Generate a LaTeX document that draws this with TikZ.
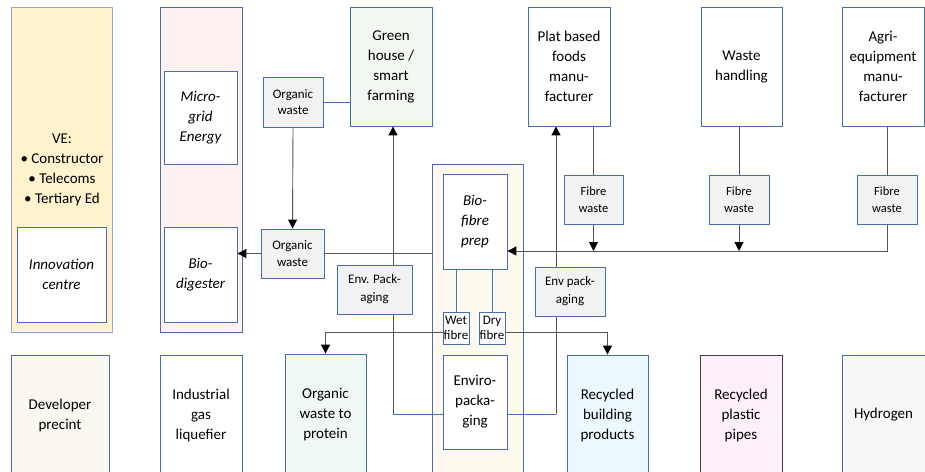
\documentclass[tikz,border=0pt]{standalone}
\usepackage{fontspec}
\setmainfont{Carlito}
\usetikzlibrary{arrows.meta}
\definecolor{boxb}{HTML}{4A6DB0}
\definecolor{colb}{HTML}{8FA9D8}
\definecolor{lnc}{HTML}{555555}
\definecolor{bluel}{HTML}{4472C4}
\definecolor{sgrey}{HTML}{F2F2F2}
\definecolor{vefill}{HTML}{FFF2CC}
\definecolor{mgfill}{HTML}{FFF1F1}
\definecolor{grfill}{HTML}{F2F8EF}
\definecolor{bffill}{HTML}{FFFAF0}
\definecolor{devfill}{HTML}{FCF7F0}
\definecolor{prfill}{HTML}{EFF8F5}
\definecolor{rcfill}{HTML}{EBF8FD}
\definecolor{ppfill}{HTML}{FDF0FA}
\definecolor{hyfill}{HTML}{F7F7FA}
\definecolor{ppb}{HTML}{404040}
\newcommand\fbig{\fontsize{15}{20}\selectfont}
\newcommand\fsm{\fontsize{13}{16.5}\selectfont}
\newcommand\fxs{\fontsize{12.5}{16.5}\selectfont}
\newcommand\fwd{\fontsize{13}{15}\selectfont}
\pgfdeclarelayer{bg}
\pgfdeclarelayer{mid}
\pgfsetlayers{bg,mid,main}
\tikzset{
  wh/.style 2 args={minimum width=#1pt, minimum height=#2pt},
  box/.style={draw=boxb, line width=0.8pt, fill=white, align=center, inner sep=0pt, font=\fbig},
  ibox/.style={box, font=\fbig\itshape},
  sbox/.style={box, fill=sgrey, font=\fsm},
  colbox/.style={draw=colb, line width=0.8pt, inner sep=0pt},
  conn/.style={draw=lnc, line width=0.9pt},
  bconn/.style={draw=bluel, line width=0.9pt},
  arr/.style={conn, -{Triangle[width=9pt,length=9pt,fill=black,color=black]}},
}
\begin{document}
\begin{tikzpicture}[x=1pt,y=-1pt]
\useasboundingbox (0,0) rectangle (925,471);
\clip (0,0) rectangle (925,471);
\begin{pgfonlayer}{bg}
\fill[white] (0,0) rectangle (925,471);
\node[colbox, fill=vefill, wh={101}{325}] (vecol) at (61.5,169.5) {};
\node[colbox, draw=boxb, fill=mgfill, wh={82}{325}] (mgcol) at (201,169.5) {};
\node[colbox, draw=boxb, fill=bffill, wh={91}{316}] (bfcol) at (477.5,322) {};
\end{pgfonlayer}
% column text
\node[align=center, font=\fbig] (vetext) at (62,170) {VE:\\\textbullet\ Constructor\\\textbullet\ Telecoms\\\textbullet\ Tertiary Ed};
% boxes
\node[ibox, wh={89}{95}] (innov) at (61.5,274.5) {Innovation\\centre};
\node[ibox, wh={73}{93}] (micro) at (200.5,117.5) {Micro-\\grid\\Energy};
\node[ibox, wh={73}{95}] (biodig) at (200.5,274.5) {Bio-\\digester};
\node[sbox, wh={60}{50}] (ow1) at (293,102) {Organic\\waste};
\node[sbox, wh={63}{49}] (ow2) at (292.5,253.5) {Organic\\waste};
\node[box, fill=grfill, wh={82}{119}] (green) at (391,66.5) {Green\\house /\\smart\\farming};
\node[sbox, wh={75}{49}, font=\fontsize{13}{18}\selectfont] (envL) at (374.5,289.5) {Env. Pack-\\aging};
\node[ibox, wh={64}{95}] (bfp) at (475,221.5) {Bio-\\fibre\\prep};
\node[box, wh={26}{32}, font=\fwd] (wet) at (456,328) {Wet\\fibre};
\node[box, wh={26}{32}, font=\fwd] (dry) at (492,328) {Dry\\fibre};
\node[box, wh={64}{94}] (enviro) at (475,402) {Enviro-\\packa-\\ging};
\node[sbox, wh={70}{49}, font=\fontsize{13}{18}\selectfont] (envR) at (570,291.5) {Env pack-\\aging};
\node[box, wh={82}{119}] (plat) at (569,66.5) {Plat based\\foods\\manu-\\facturer};
\node[sbox, wh={59}{49}, font=\fxs] (fw1) at (593.5,199.5) {Fibre\\waste};
\node[box, wh={81}{119}] (waste) at (741.5,66.5) {Waste\\handling};
\node[sbox, wh={60}{49}, font=\fxs] (fw2) at (739,199.5) {Fibre\\waste};
\node[box, wh={82}{119}] (agri) at (883,66.5) {Agri-\\equipment\\manu-\\facturer};
\node[sbox, wh={60}{49}, font=\fxs] (fw3) at (887,199.5) {Fibre\\waste};
% bottom row
\node[box, fill=devfill, wh={98}{120}] (dev) at (60,415) {Developer\\precint};
\node[box, wh={82}{120}] (indgas) at (201,415) {Industrial\\gas\\liquefier};
\node[box, fill=prfill, wh={81}{121}] (protein) at (325.5,414.5) {Organic\\waste to\\protein};
\node[box, fill=rcfill, wh={81}{120}] (recyc) at (607.5,415) {Recycled\\building\\products};
\node[box, fill=ppfill, draw=ppb, wh={82}{120}] (pipes) at (741,415) {Recycled\\plastic\\pipes};
\node[box, fill=hyfill, wh={83}{120}] (hydro) at (883.5,415) {Hydrogen};
% helper coordinates
\coordinate (bus) at (0,251);
\coordinate (wy) at (0,332);
\coordinate (eL) at (393,414);
\coordinate (eR) at (556,414);
% connectors
\begin{pgfonlayer}{mid}
\draw[bconn] (ow1.east) -- (ow1.east -| green.west);
\draw[arr] (ow1.south) -- (ow2.north);
\draw[arr] (ow2.west) -- (ow2.west -| biodig.east);
\draw[conn] (ow2.east) -- (ow2.east -| bfcol.west);
\draw[bconn] (enviro.west |- eL) -- (eL);
\draw[arr] (eL) -- (eL |- green.south);
\draw[bconn] (enviro.east |- eR) -- (eR);
\draw[arr] (eR) -- (eR |- plat.south);
\draw[bconn] (bfp.south -| wet.north) -- (wet.north);
\draw[bconn] (bfp.south -| dry.north) -- (dry.north);
\draw[conn] (fw1.north) -- (fw1.north |- plat.south);
\draw[arr] (fw1.south) -- (fw1.south |- bus);
\draw[conn] (fw2.north) -- (fw2.north |- waste.south);
\draw[arr] (fw2.south) -- (fw2.south |- bus);
\draw[conn] (fw3.north) -- (fw3.north |- agri.south);
\draw[arr] (fw3.south) |- (bfp.east |- bus);
\draw[arr] (wet.west |- wy) -| (protein.north);
\draw[arr] (dry.east |- wy) -| (recyc.north);
\end{pgfonlayer}
\end{tikzpicture}
\end{document}
